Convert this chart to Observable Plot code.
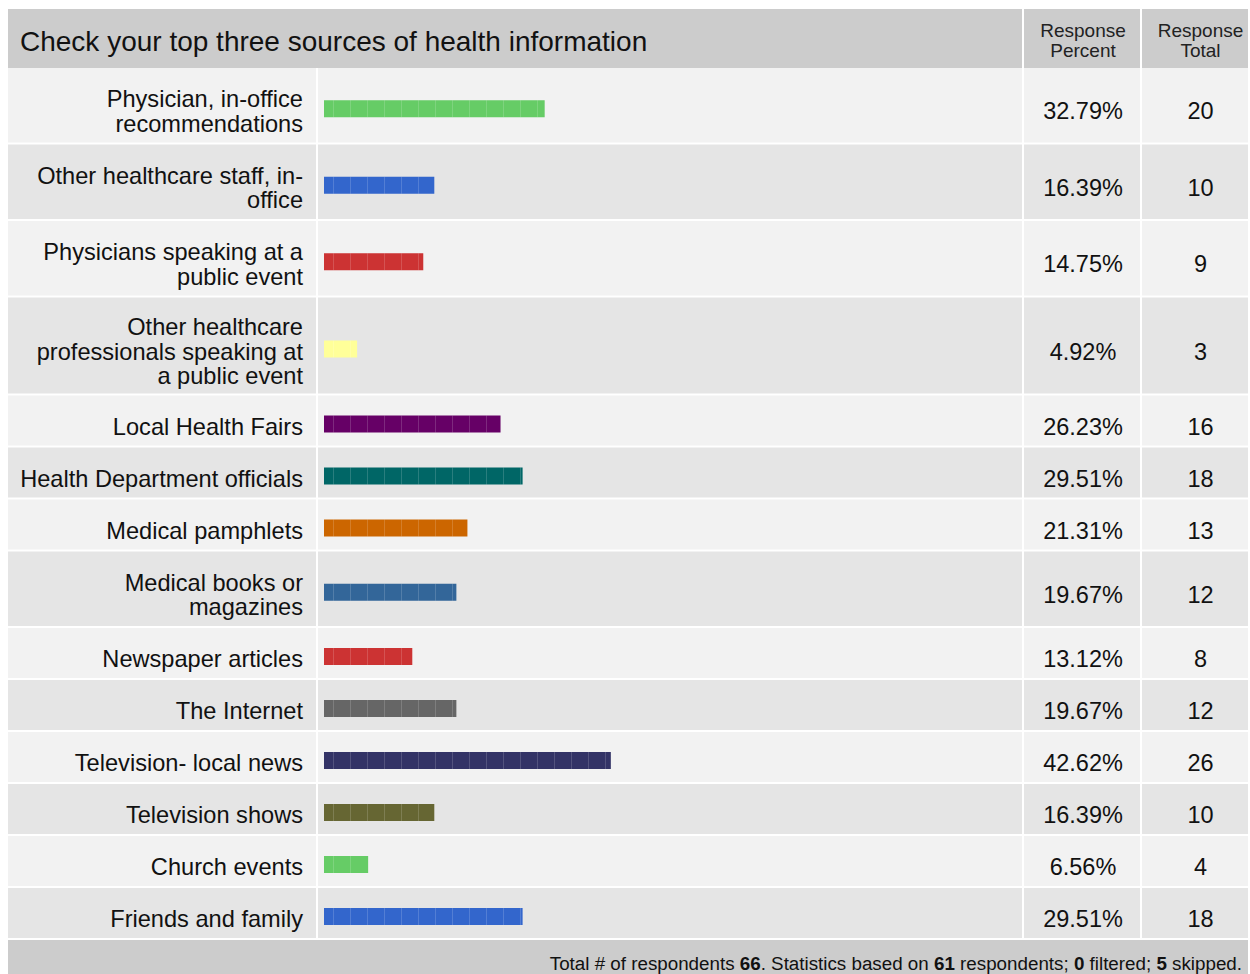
<!DOCTYPE html>
<html>
<head>
<meta charset="utf-8">
<script src="https://cdn.jsdelivr.net/npm/d3@7"></script>
<script src="https://cdn.jsdelivr.net/npm/@observablehq/plot@0.6"></script>
<style>
  body { margin: 0; background: #fff; font-family: "Liberation Sans", Arial, sans-serif; }
  #footer {
    margin-left: 8px; width: 1240px; height: 40px; background: #cccccc;
    box-sizing: border-box; padding: 15px 6px 0 0; text-align: right;
    font-size: 18.8px; line-height: 18px; color: #111;
  }
</style>
</head>
<body>
<div id="chart"></div>
<div id="footer"></div>
<script>
// ---- data ----
const title = "Check your top three sources of health information";
const headerCols = ["Response\nPercent", "Response\nTotal"];
const categories = [
  "Physician, in-office\nrecommendations",
  "Other healthcare staff, in-\noffice",
  "Physicians speaking at a\npublic event",
  "Other healthcare\nprofessionals speaking at\na public event",
  "Local Health Fairs",
  "Health Department officials",
  "Medical pamphlets",
  "Medical books or\nmagazines",
  "Newspaper articles",
  "The Internet",
  "Television- local news",
  "Television shows",
  "Church events",
  "Friends and family"
];
const percents = [32.79, 16.39, 14.75, 4.92, 26.23, 29.51, 21.31, 19.67, 13.12, 19.67, 42.62, 16.39, 6.56, 29.51];
const totals = [20, 10, 9, 3, 16, 18, 13, 12, 8, 12, 26, 10, 4, 18];
const colors = ["#66cc66", "#3366cc", "#cc3333", "#ffff99", "#660066", "#006666", "#cc6600",
                "#336699", "#cc3333", "#666666", "#333366", "#666633", "#66cc66", "#3366cc"];
const footerLabels = ["Total # of respondents ", ". Statistics based on ", " respondents; ", " filtered; ", " skipped."];
const footerValues = [66, 61, 0, 5];

// ---- layout ----
const W = 1250, H = 940;
const FONT = "Liberation Sans, Arial, sans-serif";
const xDomain = [0, 100], xRange = [324, 997];
const xs = Plot.scale({x: {domain: xDomain, range: xRange}});
const X = px => xs.invert(px);
const pitch = {1: 52, 2: 76.5, 3: 98};
let yCursor = 68;
const rows = categories.map((label, i) => {
  const p = pitch[label.split("\n").length];
  const r = {i, label, pct: percents[i], total: totals[i], color: colors[i],
             rowTop: yCursor, rowBottom: yCursor + p - 2, mid: yCursor + (p - 2) / 2,
             shade: i % 2 ? "#e5e5e5" : "#f2f2f2"};
  yCursor += p;
  return r;
});
const columns = [[8, 316], [318, 1022], [1024, 1140], [1142, 1248]];
const cells = rows.flatMap(r => columns.map(([a, b]) => ({x1: X(a), x2: X(b), y1: r.rowTop, y2: r.rowBottom, fill: r.shade})));
const headerCells = [[8, 1022], [1024, 1140], [1142, 1248]].map(([a, b]) => ({x1: X(a), x2: X(b), y1: 9, y2: 68}));
const segStep = 17 / (xRange[1] - xRange[0]) * (xDomain[1] - xDomain[0]);
const barTop = d => d.mid + 3.5 - 8.5, barBottom = d => d.mid + 3.5 + 8.5;
const segs = rows.flatMap(r => {
  const out = [];
  for (let s = X(333); s < r.pct - 0.3; s += segStep) out.push({x: s, y1: barTop(r), y2: barBottom(r)});
  return out;
});

const chart = Plot.plot({
  width: W, height: H,
  marginTop: 0, marginRight: 0, marginBottom: 0, marginLeft: 0,
  x: {domain: xDomain, range: xRange, axis: null},
  y: {domain: [0, H], range: [0, H], axis: null},
  color: {type: "identity"},
  style: {fontFamily: FONT, background: "#fff"},
  marks: [
    Plot.rect(headerCells, {x1: "x1", x2: "x2", y1: "y1", y2: "y2", fill: "#cccccc"}),
    Plot.rect(cells, {x1: "x1", x2: "x2", y1: "y1", y2: "y2", fill: "fill"}),
    Plot.rect(rows, {x1: 0, x2: "pct", y1: barTop, y2: barBottom, fill: "color"}),
    Plot.ruleX(segs, {x: "x", y1: "y1", y2: "y2", stroke: "#ffffff", strokeOpacity: 0.16, strokeWidth: 1}),
    Plot.text([title], {x: X(19.5), y: 38.5, text: d => d, textAnchor: "start", fontSize: 28, dy: 3.2, fill: "#111"}),
    Plot.text(headerCols, {x: (d, i) => i ? X(1200) : X(1082.5), y: 38.5, text: d => d, fontSize: 19, lineHeight: 1.02, dy: 1.8, fill: "#222"}),
    Plot.text(rows, {x: X(302.5), y: "mid", text: "label", textAnchor: "end", lineAnchor: "middle", lineHeight: 1.04, fontSize: 23.6, dy: 6, fill: "#111"}),
    Plot.text(rows, {x: X(1082.5), y: "mid", text: d => d.pct.toFixed(2) + "%", fontSize: 23.5, dy: 6, fill: "#111"}),
    Plot.text(rows, {x: X(1200), y: "mid", text: d => String(d.total), fontSize: 23.5, dy: 6, fill: "#111"})
  ]
});
document.getElementById("chart").append(chart);

const footer = document.getElementById("footer");
footerLabels.forEach((t, i) => {
  footer.append(document.createTextNode(t));
  if (i < footerValues.length) {
    const b = document.createElement("b");
    b.textContent = footerValues[i];
    footer.append(b);
  }
});
</script>
</body>
</html>
